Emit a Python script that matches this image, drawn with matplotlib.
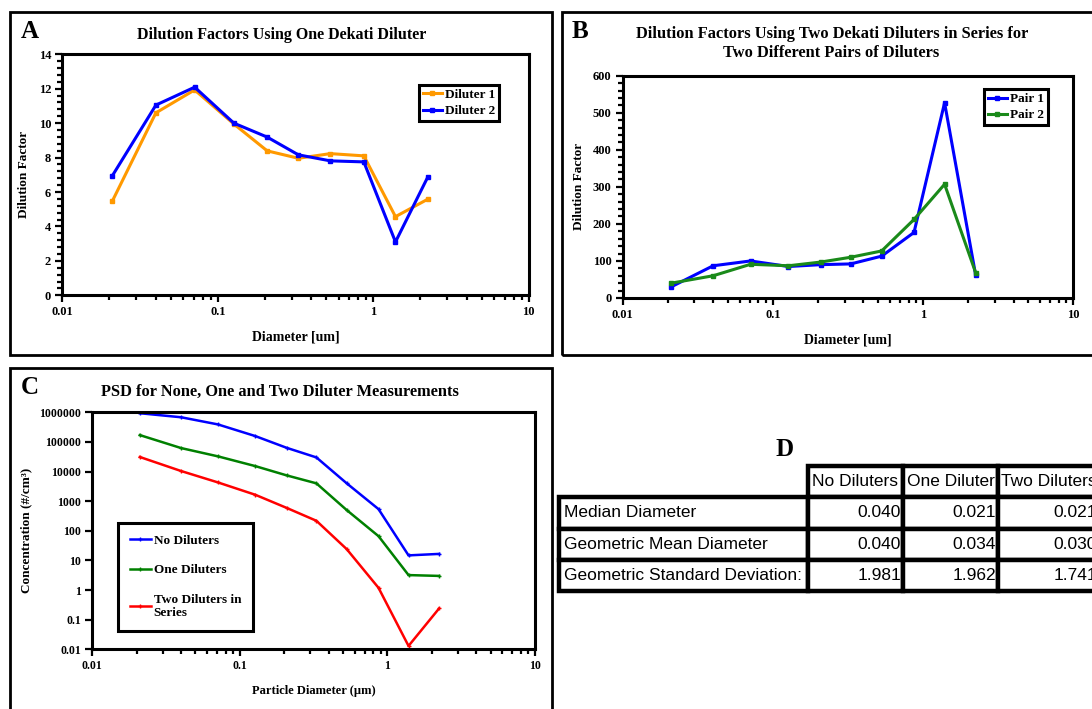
import numpy as np
import matplotlib
matplotlib.use('Agg')
from matplotlib import pyplot as plt
from matplotlib import ticker
from matplotlib.patches import Rectangle

# particle diameters (um) shared by all panels
diam = [0.021, 0.040, 0.071, 0.127, 0.208, 0.33, 0.53, 0.87, 1.39, 2.24]

# panel A
diluter1 = [5.48, 10.6, 11.93, 9.95, 8.39, 7.96, 8.23, 8.1, 4.57, 5.58]
diluter2 = [6.95, 11.05, 12.09, 10.0, 9.19, 8.16, 7.81, 7.75, 3.1, 6.86]

# panel B
pair1 = [30, 87, 100, 85, 90, 92, 113, 177, 527, 61]
pair2 = [40, 60, 91, 87, 97, 110, 127, 212, 307, 68]

# panel C
no_dil = [930000, 680000, 390000, 158000, 63000, 30000, 4000, 540, 14.8, 16.6]
one_dil = [170000, 62000, 32600, 15300, 7400, 4000, 500, 66, 3.2, 3.0]
two_dil = [31000, 10400, 4300, 1650, 590, 218, 24, 1.19, 0.013, 0.24]

# panel D
col_labels = ['No Diluters', 'One Diluter', 'Two Diluters']
row_labels = ['Median Diameter', 'Geometric Mean Diameter', 'Geometric Standard Deviation:']
stats = [[0.040, 0.021, 0.021],
         [0.040, 0.034, 0.030],
         [1.981, 1.962, 1.741]]

plt.rcParams['font.family'] = ['Liberation Serif', 'DejaVu Serif']
plt.rcParams['font.weight'] = 'bold'
plt.rcParams['axes.labelweight'] = 'bold'

W, H = 1092, 709
fig = plt.figure(figsize=(W / 100, H / 100), dpi=100)


def px(x0, y0, x1, y1):
    return [x0 / W, 1 - y1 / H, (x1 - x0) / W, (y1 - y0) / H]


def ftext(x, y, s, **kw):
    fig.text(x / W, 1 - y / H, s, ha=kw.pop('ha', 'center'), va=kw.pop('va', 'center'), **kw)


def frame(x0, y0, x1, y1):
    fig.patches.append(Rectangle((x0 / W, 1 - y1 / H), (x1 - x0) / W, (y1 - y0) / H,
                                 transform=fig.transFigure, fill=False, lw=2, ec='black'))


def plain(v, p):
    return ('%.2f' % v).rstrip('0').rstrip('.')


def style_axes(ax, size=9):
    for s in ax.spines.values():
        s.set_linewidth(2.2)
    ax.tick_params(which='major', direction='out', length=5, width=1.6, labelsize=size, pad=3)
    ax.tick_params(which='minor', direction='out', length=3.5, width=1.6)
    ax.tick_params(top=False, right=False, which='both')
    ax.set_xscale('log')
    ax.set_xlim(0.01, 10)
    ax.xaxis.set_major_formatter(ticker.FuncFormatter(plain))
    ax.xaxis.set_minor_formatter(ticker.NullFormatter())


def style_legend(leg):
    leg.get_frame().set_edgecolor('black')
    leg.get_frame().set_linewidth(2.2)
    leg.get_frame().set_boxstyle('square', pad=0)


frame(10, 12, 552, 355)
frame(562, 12, 1100, 355)
frame(10, 368, 552, 715)

# ---- A
ax = fig.add_axes(px(62.3, 54.3, 528.7, 295.3))
ax.plot(diam, diluter1, color='#FF9900', lw=2.2, marker='s', ms=3.5, label='Diluter 1')
ax.plot(diam, diluter2, color='#0000FF', lw=2.2, marker='s', ms=3.5, label='Diluter 2')
style_axes(ax)
ax.set_ylim(0, 14)
ax.yaxis.set_major_locator(ticker.MultipleLocator(2))
ax.yaxis.set_minor_locator(ticker.MultipleLocator(0.4))
ax.set_xlabel('Diameter [um]', fontsize=10, labelpad=9)
ax.set_ylabel('Dilution Factor', fontsize=9.5, labelpad=6)
leg = ax.legend(loc='upper left', bbox_to_anchor=(0.765, 0.873), fontsize=9.5, handlelength=1.4,
                handletextpad=0.25, borderpad=0.3, labelspacing=0.3, fancybox=False, framealpha=1,
                borderaxespad=0)
style_legend(leg)
ftext(281.5, 35, 'Dilution Factors Using One Dekati Diluter', fontsize=11.5)
ftext(30, 32, 'A', fontsize=18)

# ---- B
ax = fig.add_axes(px(622.7, 75.7, 1073.3, 298))
ax.plot(diam, pair1, color='#0000FF', lw=2.2, marker='s', ms=3.5, label='Pair 1')
ax.plot(diam, pair2, color='#1A8A1A', lw=2.2, marker='s', ms=3.5, label='Pair 2')
style_axes(ax)
ax.set_ylim(0, 600)
ax.yaxis.set_major_locator(ticker.MultipleLocator(100))
ax.yaxis.set_minor_locator(ticker.MultipleLocator(20))
ax.set_xlabel('Diameter [um]', fontsize=10, labelpad=9)
ax.set_ylabel('Dilution Factor', fontsize=9.5, labelpad=6)
leg = ax.legend(loc='upper left', bbox_to_anchor=(0.802, 0.94), fontsize=9.5, handlelength=1.4,
                handletextpad=0.25, borderpad=0.3, labelspacing=0.3, fancybox=False, framealpha=1,
                borderaxespad=0)
style_legend(leg)
ftext(832, 34, 'Dilution Factors Using Two Dekati Diluters in Series for', fontsize=11.8)
ftext(831, 53, 'Two Different Pairs of Diluters', fontsize=11.8)
ftext(580, 32, 'B', fontsize=18)

# ---- C
ax = fig.add_axes(px(92.3, 412.3, 535, 649.3))
ax.plot(diam, no_dil, color='#0000FF', lw=1.8, marker='+', ms=3, label='No Diluters')
ax.plot(diam, one_dil, color='#008000', lw=1.8, marker='+', ms=3, label='One Diluters')
ax.plot(diam, two_dil, color='#FF0000', lw=1.8, marker='+', ms=3, label='Two Diluters in\nSeries')
style_axes(ax, size=8.5)
ax.set_yscale('log')
ax.set_ylim(0.01, 1000000)
ax.yaxis.set_major_locator(ticker.LogLocator(base=10, numticks=20))
ax.yaxis.set_minor_locator(ticker.NullLocator())
ax.yaxis.set_major_formatter(ticker.FuncFormatter(plain))
ax.set_xlabel('Particle Diameter (µm)', fontsize=9, labelpad=9)
ax.set_ylabel('Concentration (#/cm³)', fontsize=9.5, labelpad=5)
leg = ax.legend(loc='upper left', bbox_to_anchor=(0.058, 0.533), fontsize=9.5, handlelength=1.6,
                handletextpad=0.2, borderpad=0.9, labelspacing=1.3, fancybox=False, framealpha=1,
                borderaxespad=0)
style_legend(leg)
ftext(280, 392, 'PSD for None, One and Two Diluter Measurements', fontsize=11.8)
ftext(30, 388, 'C', fontsize=18)

# ---- D
ftext(785, 450, 'D', fontsize=18)
tax = fig.add_axes(px(559, 466, 1099, 591))
tax.axis('off')
cells = [[lab] + ['%.3f' % v for v in vals] for lab, vals in zip(row_labels, stats)]
widths = np.array([249, 95, 95, 101], float)
tbl = tax.table(cellText=cells, colLabels=[''] + col_labels, colWidths=list(widths / widths.sum()),
                bbox=[0, 0, 1, 1])
tbl.auto_set_font_size(False)
for (r, c), cell in tbl.get_celld().items():
    cell.set_linewidth(3.2)
    cell.PAD = 0.02
    t = cell.get_text()
    t.set_fontfamily(['Liberation Sans Narrow', 'Liberation Sans'])
    t.set_fontweight('normal')
    t.set_fontsize(12.5)
    if r == 0:
        t.set_ha('center')
        if c == 0:
            cell.visible_edges = ''
    elif c == 0:
        cell._loc = 'left'
        t.set_ha('left')
    else:
        cell._loc = 'right'
        t.set_ha('right')

fig.savefig('out.png', dpi=100)
